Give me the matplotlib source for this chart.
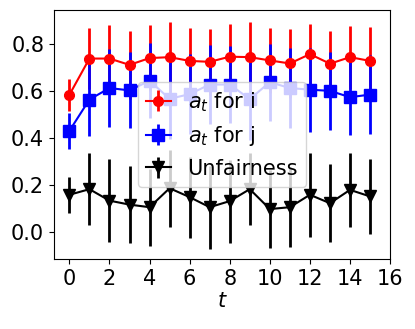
import numpy as np
import matplotlib
matplotlib.use("Agg")
import matplotlib.pyplot as plt

t = np.arange(16)

a_i = [0.584, 0.739, 0.739, 0.712, 0.741, 0.745, 0.729, 0.725,
       0.747, 0.745, 0.731, 0.718, 0.758, 0.717, 0.745, 0.729]
a_i_err = [0.068, 0.130, 0.144, 0.146, 0.142, 0.150, 0.140, 0.140,
           0.139, 0.151, 0.138, 0.147, 0.130, 0.138, 0.134, 0.144]

a_j = [0.430, 0.564, 0.613, 0.603, 0.644, 0.567, 0.587, 0.628,
       0.628, 0.566, 0.638, 0.613, 0.606, 0.601, 0.574, 0.585]
a_j_err = [0.078, 0.155, 0.165, 0.162, 0.160, 0.170, 0.170, 0.170,
           0.165, 0.175, 0.165, 0.171, 0.180, 0.168, 0.161, 0.169]

unfair = [0.157, 0.181, 0.132, 0.115, 0.104, 0.185, 0.147, 0.104,
          0.130, 0.181, 0.096, 0.104, 0.157, 0.121, 0.178, 0.150]
unfair_err = [0.078, 0.153, 0.176, 0.165, 0.165, 0.164, 0.173, 0.178,
              0.177, 0.155, 0.167, 0.171, 0.180, 0.166, 0.158, 0.160]

plt.rcParams["font.size"] = 15

fig = plt.figure(figsize=(4.15, 3.29), dpi=100)
ax = fig.add_axes([0.130, 0.213, 0.810, 0.757])

ax.errorbar(t, a_i, yerr=a_i_err, color="red", marker="o", markersize=7,
            elinewidth=2, label="$a_t$ for i")
ax.errorbar(t, a_j, yerr=a_j_err, color="blue", marker="s", markersize=8,
            elinewidth=2, label="$a_t$ for j")
ax.errorbar(t, unfair, yerr=unfair_err, color="black", marker="v", markersize=8,
            elinewidth=2, label="Unfairness")

ax.set_xticks(range(0, 17, 2))
ax.set_xlim(-0.77, 16)
ax.set_ylim(-0.117, 0.947)
ax.set_yticks([0.0, 0.2, 0.4, 0.6, 0.8])
ax.set_xlabel("$t$", labelpad=2)
ax.legend(loc="center", fontsize=15, handlelength=1.2)

fig.savefig("out.png", dpi=100)
